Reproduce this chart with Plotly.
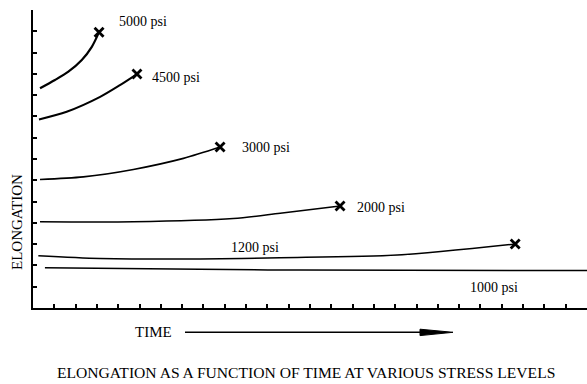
import plotly.graph_objects as go

# ---- data (x in time-tick units, y in elongation-tick units)
stress_labels = ["5000 psi", "4500 psi", "3000 psi", "2000 psi", "1200 psi", "1000 psi"]

t_5000 = [0.33, 1.03, 1.66, 2.29, 2.76, 3.10]
e_5000 = [10.32, 10.71, 11.10, 11.65, 12.27, 12.96]

t_4500 = [0.28, 1.58, 3.15, 4.08, 4.88]
e_4500 = [8.86, 9.22, 9.92, 10.47, 10.99]

t_3000 = [0.33, 2.36, 4.71, 7.06, 8.78]
e_3000 = [6.04, 6.16, 6.51, 7.03, 7.56]

t_2000 = [0.33, 4.70, 9.40, 11.60, 14.41]
e_2000 = [4.05, 4.05, 4.20, 4.45, 4.79]

t_1200 = [0.25, 3.15, 7.84, 11.60, 17.10, 22.63]
e_1200 = [2.46, 2.33, 2.30, 2.36, 2.49, 3.01]

t_1000 = [0.56, 7.84, 12.50, 26.0]
e_1000 = [1.89, 1.82, 1.78, 1.76]

ruptured = [True, True, True, True, True, False]

label_x = [5.16, 6.71, 10.94, 16.34, 10.42, 21.64]
label_y = [13.48, 10.85, 7.56, 4.74, 2.82, 0.94]

x_ticks = list(range(0, 27))
y_ticks = list(range(0, 15))

series_t = [t_5000, t_4500, t_3000, t_2000, t_1200, t_1000]
series_e = [e_5000, e_4500, e_3000, e_2000, e_1200, e_1000]

SERIF = "Liberation Serif, Times New Roman, serif"

fig = go.Figure()
widths = [2.2, 2.0, 1.6, 1.5, 1.5, 1.5]
for t, e, w in zip(series_t, series_e, widths):
    fig.add_trace(go.Scatter(x=t, y=e, mode="lines",
                             line=dict(color="black", width=w, shape="spline", smoothing=0.8),
                             hoverinfo="skip", showlegend=False))

end_x = [t[-1] for t, r in zip(series_t, ruptured) if r]
end_y = [e[-1] for e, r in zip(series_e, ruptured) if r]
fig.add_trace(go.Scatter(x=end_x, y=end_y, mode="markers",
                         marker=dict(symbol="x-thin-open", size=9, color="black",
                                     line=dict(width=2.8, color="black")),
                         hoverinfo="skip", showlegend=False))

for lab, lx, ly in zip(stress_labels, label_x, label_y):
    fig.add_annotation(x=lx, y=ly, text=lab, showarrow=False,
                       font=dict(family=SERIF, size=14, color="black"),
                       xanchor="center", yanchor="middle")

# axis titles / caption
fig.add_annotation(xref="paper", yref="paper", x=-0.03, y=0.29, text="ELONGATION",
                   textangle=-90, showarrow=False,
                   font=dict(family=SERIF, size=15, color="black"),
                   xanchor="center", yanchor="middle")
fig.add_annotation(xref="paper", yref="paper", x=(153 - 33) / 554, y=(308 - 332) / 298,
                   text="TIME", showarrow=False,
                   font=dict(family=SERIF, size=15, color="black"),
                   xanchor="center", yanchor="middle")
fig.add_annotation(xref="paper", yref="paper", x=(306 - 33) / 554, y=(308 - 372) / 298,
                   text="ELONGATION AS A FUNCTION OF TIME AT VARIOUS STRESS LEVELS",
                   showarrow=False,
                   font=dict(family=SERIF, size=15.6, color="black"),
                   xanchor="center", yanchor="middle")

def px(v):
    return (v - 33) / 554

def py(v):
    return (308 - v) / 298

fig.add_shape(type="line", xref="paper", yref="paper",
              x0=px(185), x1=px(425), y0=py(332.3), y1=py(332.3),
              line=dict(color="black", width=1.6))
fig.add_shape(type="path", xref="paper", yref="paper",
              path=f"M {px(420)},{py(329.2)} L {px(453)},{py(332.3)} L {px(420)},{py(335.6)} Z",
              fillcolor="black", line=dict(color="black", width=1))

fig.update_xaxes(range=[0, 26.0], showgrid=False, zeroline=False,
                 showline=True, linecolor="black", linewidth=1.6,
                 ticks="inside", ticklen=4, tickwidth=1.5, tickcolor="black",
                 tickvals=x_ticks, showticklabels=False)
fig.update_yaxes(range=[0, 14.0], showgrid=False, zeroline=False,
                 showline=True, linecolor="black", linewidth=2.2,
                 ticks="inside", ticklen=4, tickwidth=2, tickcolor="black",
                 tickvals=y_ticks, showticklabels=False)

fig.update_layout(width=587, height=384,
                  margin=dict(l=33, r=0, t=10, b=76),
                  paper_bgcolor="white", plot_bgcolor="white",
                  showlegend=False)

fig.write_html("out.html")
